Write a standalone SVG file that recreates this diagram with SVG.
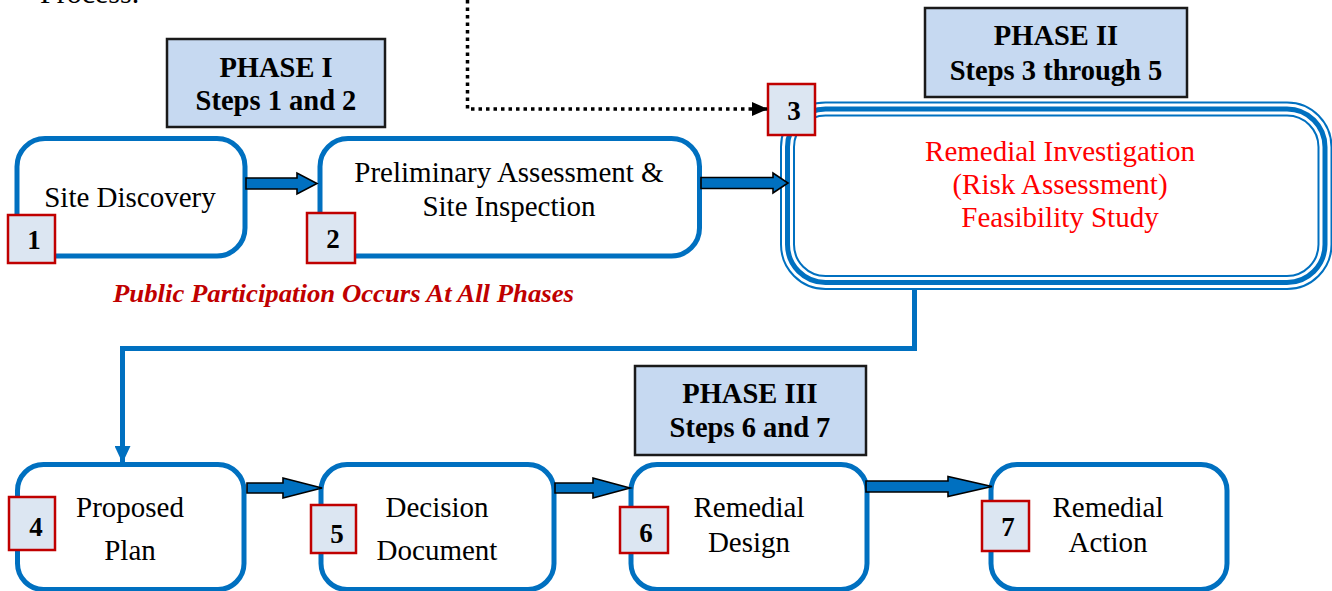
<svg xmlns="http://www.w3.org/2000/svg" width="1332" height="591" viewBox="0 0 1332 591">
<defs>
<style>
.t{font-family:"Liberation Serif","Times New Roman",serif;fill:#000;}
.body{font-size:29px;text-anchor:middle;}
.hdr{font-size:28.5px;font-weight:bold;text-anchor:middle;}
.num{font-size:27px;font-weight:bold;text-anchor:middle;}
.red{fill:#ff0000;}
.box{fill:#fff;stroke:#0070c0;stroke-width:5;}
.badge{fill:#dce6f2;stroke:#c00000;stroke-width:2.5;}
.phase{fill:#c6d9f1;stroke:#1a1a1a;stroke-width:2.5;}
.blk{fill:#0070c0;stroke:#000;stroke-width:1.6;stroke-linejoin:miter;}
</style>
<marker id="dotHead" viewBox="0 0 16 14" refX="16" refY="7" markerWidth="16" markerHeight="14" markerUnits="userSpaceOnUse" orient="auto">
<path d="M0,0 L16,7 L0,14 Z" fill="#000"/>
</marker>
<marker id="blueHead" viewBox="0 0 17 16" refX="17" refY="8" markerWidth="17" markerHeight="16" markerUnits="userSpaceOnUse" orient="auto">
<path d="M0,0 L17,8 L0,16 Z" fill="#0070c0"/>
</marker>
</defs>
<rect width="1332" height="591" fill="#fff"/>

<text class="t" x="40" y="3" style="font-size:30px">Process.</text>

<g id="phase1">
<rect class="phase" x="167" y="39" width="218" height="88"/>
<text class="t hdr" x="276" y="77">PHASE I</text>
<text class="t hdr" x="276" y="110">Steps 1 and 2</text>
</g>

<g id="phase2">
<rect class="phase" x="925" y="8" width="262" height="89"/>
<text class="t hdr" x="1056" y="45">PHASE II</text>
<text class="t hdr" x="1056" y="80">Steps 3 through 5</text>
</g>

<g id="phase3">
<rect class="phase" x="635" y="366" width="231" height="89"/>
<text class="t hdr" x="750" y="403">PHASE III</text>
<text class="t hdr" x="750" y="437">Steps 6 and 7</text>
</g>

<g id="step1">
<rect class="box" x="17" y="138.5" width="228" height="117.5" rx="28"/>
<text class="t body" x="130" y="207">Site Discovery</text>
<rect class="badge" x="8" y="215" width="47" height="48"/>
<text class="t num" x="34" y="249">1</text>
</g>

<g id="step2">
<rect class="box" x="320" y="138.5" width="379.5" height="117.5" rx="28"/>
<text class="t body" x="509" y="182">Preliminary Assessment &amp;</text>
<text class="t body" x="509" y="216">Site Inspection</text>
<rect class="badge" x="307" y="213" width="48" height="50"/>
<text class="t num" x="333" y="248">2</text>
</g>

<g id="step3">
<rect x="787.5" y="109" width="537.5" height="173.5" rx="38" fill="#fff" stroke="#0070c0" stroke-width="15"/>
<rect x="787.5" y="109" width="537.5" height="173.5" rx="38" fill="none" stroke="#fff" stroke-width="11"/>
<rect x="787.5" y="109" width="537.5" height="173.5" rx="38" fill="none" stroke="#0070c0" stroke-width="5"/>
<text class="t body red" x="1060" y="161">Remedial Investigation</text>
<text class="t body red" x="1060" y="194">(Risk Assessment)</text>
<text class="t body red" x="1060" y="227">Feasibility Study</text>
<rect class="badge" x="768" y="84" width="47" height="51"/>
<text class="t num" x="794" y="120">3</text>
</g>

<g id="step4">
<rect class="box" x="17.5" y="464.5" width="226.5" height="125" rx="26"/>
<text class="t body" x="130" y="517">Proposed</text>
<text class="t body" x="130" y="560">Plan</text>
<rect class="badge" x="9" y="497" width="46" height="53"/>
<text class="t num" x="36" y="536">4</text>
</g>

<g id="step5">
<rect class="box" x="321" y="464.5" width="233" height="125" rx="26"/>
<text class="t body" x="437" y="517">Decision</text>
<text class="t body" x="437" y="560">Document</text>
<rect class="badge" x="311" y="505" width="45" height="48"/>
<text class="t num" x="337" y="543">5</text>
</g>

<g id="step6">
<rect class="box" x="631" y="464.5" width="236" height="125" rx="26"/>
<text class="t body" x="749" y="517">Remedial</text>
<text class="t body" x="749" y="552">Design</text>
<rect class="badge" x="620" y="507" width="48" height="46"/>
<text class="t num" x="646" y="542">6</text>
</g>

<g id="step7">
<rect class="box" x="991" y="464.5" width="236" height="125" rx="26"/>
<text class="t body" x="1108" y="517">Remedial</text>
<text class="t body" x="1108" y="552">Action</text>
<rect class="badge" x="982" y="501" width="47" height="50"/>
<text class="t num" x="1008" y="536">7</text>
</g>

<text class="t" x="113" y="302" textLength="461" lengthAdjust="spacingAndGlyphs" style="font-size:26px;font-weight:bold;font-style:italic;fill:#c00000">Public Participation Occurs At All Phases</text>

<g id="connectors">
<path d="M467.5,0 V109 H768" fill="none" stroke="#000" stroke-width="3.5" stroke-dasharray="3.5 4" marker-end="url(#dotHead)"/>
<path d="M246,178 H297 V173 L317,183.5 L297,194 V189 H246 Z" class="blk"/>
<path d="M701,177.5 H773 V173 L788,183 L773,193 V188.5 H701 Z" class="blk"/>
<path d="M914.5,290 V348.5 H122.5 V463" fill="none" stroke="#0070c0" stroke-width="5" marker-end="url(#blueHead)"/>
<path d="M247,483 H283 V478 L322,488 L283,498 V493 H247 Z" class="blk"/>
<path d="M555,483 H593 V478 L630,488 L593,498 V493 H555 Z" class="blk"/>
<path d="M866,481 H948 V476.5 L992,486.5 L948,496.5 V492 H866 Z" class="blk"/>
</g>
</svg>
